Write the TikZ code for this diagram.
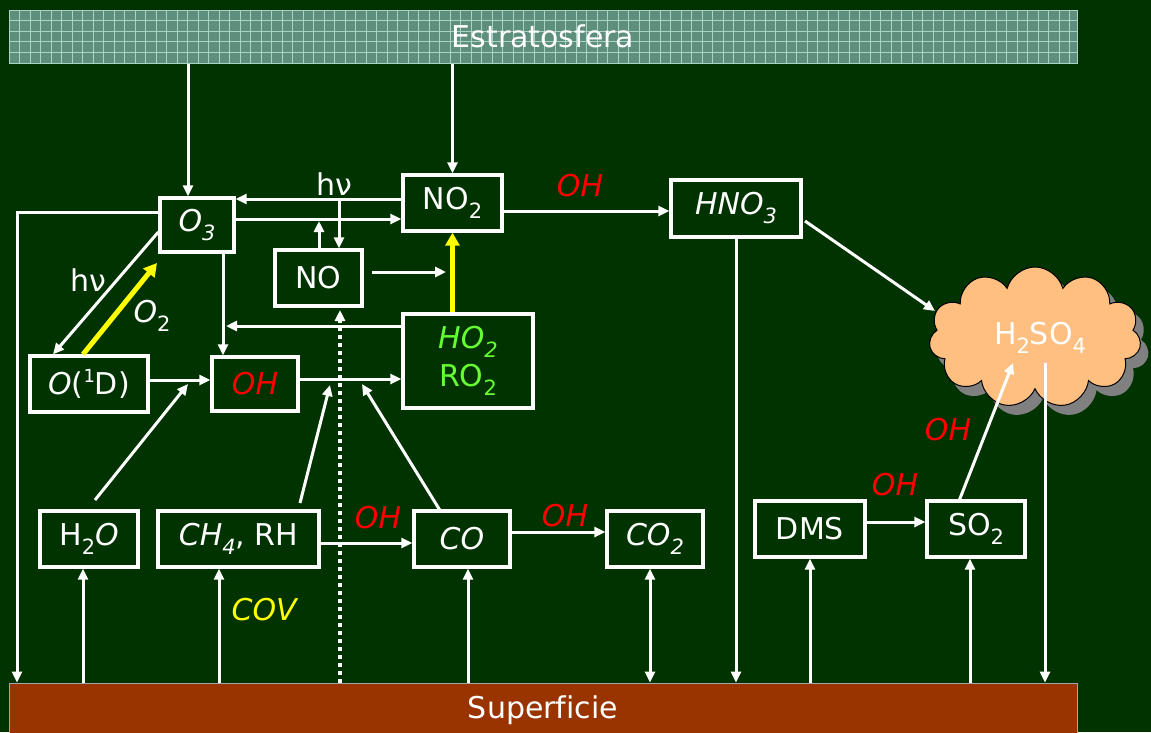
\documentclass[tikz,border=0pt]{standalone}
\usepackage{fontspec}
\setmainfont{DejaVu Sans}[Ligatures=CommonOff]
\usetikzlibrary{arrows.meta,shapes.symbols}
\definecolor{bg}{HTML}{003300}
\definecolor{stratfill}{HTML}{5E8F7D}
\definecolor{stratgrid}{HTML}{A9D3C3}
\definecolor{surffill}{HTML}{993300}
\definecolor{peach}{HTML}{FFBF80}
\definecolor{lime}{HTML}{66FF33}
\definecolor{ohred}{HTML}{FF0000}
\definecolor{yel}{HTML}{FFFF00}
\definecolor{shadowgray}{HTML}{808080}
\newcommand{\sbs}[1]{\raisebox{-0.3em}{\fontsize{21}{21}\selectfont #1}}
\newcommand{\sps}[1]{\raisebox{0.42em}{\fontsize{18}{18}\selectfont #1}}
\newcommand{\bigsz}{\fontsize{30}{38}\selectfont}
\begin{document}
\begin{tikzpicture}[x=1pt,y=-1pt,
  box/.style={draw=white, line width=3.3pt, inner sep=0pt, text=white, font=\bigsz, align=center},
  arr/.style={draw=white, line width=3pt, -{Triangle[length=11pt,width=10pt]}},
  darr/.style={draw=white, line width=3pt, {Triangle[length=11pt,width=10pt]}-{Triangle[length=11pt,width=10pt]}},
  dotarr/.style={draw=white, line width=3.2pt, dash pattern=on 4pt off 4pt, -{Triangle[length=11pt,width=10pt]}},
  yarr/.style={draw=yel, line width=5pt, -{Triangle[length=13pt,width=14pt]}},
  lbl/.style={font=\bigsz, inner sep=0pt},
  bar/.style={inner sep=0pt, text=white, font=\bigsz},
  puff/.style={cloud, cloud puffs=11, aspect=1.5, minimum width=212pt, minimum height=141pt, inner sep=0pt},
  ]
\useasboundingbox (0,0) rectangle (1151,732);
\fill[bg] (0,0) rectangle (1151,732);

% stratosphere bar
\fill[stratfill] (9,10) rectangle (1077,63);
\foreach \x in {19.5,30,...,1077} {\draw[stratgrid, line width=0.9pt] (\x,10) -- (\x,63);}
\foreach \y in {20.5,31,41.5,52} {\draw[stratgrid, line width=0.9pt] (9,\y) -- (1077,\y);}
\node[bar, draw=stratgrid, line width=1pt, minimum width=1068pt, minimum height=53pt] (strat) at (543,36.5) {Estratosfera};

% surface bar
\node[bar, draw=gray!70, line width=0.8pt, fill=surffill, minimum width=1068pt, minimum height=54pt] (surf) at (543,710) {Superficie};

% cloud
\node[puff, fill=shadowgray] (cls) at (1043,347) {};
\node[puff, draw=black, line width=1pt, fill=peach] (cl) at (1035,337.5) {};
\node[lbl, text=white] (h2so4) at (1040,338) {H\sbs{2}SO\sbs{4}};

% boxes
\node[box, minimum width=74pt, minimum height=54pt] (O3) at (197,225) {\textit{O\sbs{3}}};
\node[box, minimum width=99pt, minimum height=56pt] (NO2) at (452.5,203) {NO\sbs{2}};
\node[box, minimum width=87pt, minimum height=56pt] (NO) at (318.5,278) {NO};
\node[box, minimum width=130pt, minimum height=94pt, text=lime] (HO) at (468,361) {\textit{HO\sbs{2}}\\RO\sbs{2}};
\node[box, minimum width=86pt, minimum height=54pt, text=ohred] (OH) at (255,384) {\textit{OH}};
\node[box, minimum width=118pt, minimum height=56pt] (O1D) at (89,384) {\textit{O}(\sps{1}D)};
\node[box, minimum width=130pt, minimum height=57pt] (HNO3) at (736,208.5) {\textit{HNO\sbs{3}}};
\node[box, minimum width=98pt, minimum height=56pt] (H2O) at (89,539) {H\sbs{2}\textit{O}};
\node[box, minimum width=161pt, minimum height=56pt] (CH4) at (238.5,539) {\textit{CH\sbs{4}}, RH};
\node[box, minimum width=96pt, minimum height=56pt] (CO) at (462,539) {\textit{CO}};
\node[box, minimum width=96pt, minimum height=56pt] (CO2) at (655,539) {\textit{CO\sbs{2}}};
\node[box, minimum width=110pt, minimum height=56pt] (DMS) at (810,529) {DMS};
\node[box, minimum width=98pt, minimum height=56pt] (SO2) at (976,529) {SO\sbs{2}};

% free ends
\coordinate (hvs) at (339,199);
\coordinate (noup) at (319,221);
\coordinate (nos) at (372,272);
\coordinate (noe) at (446,272);
\coordinate (hoe) at (226,326);
\coordinate (o3w) at (158,232);
\coordinate (yt) at (157,263);
\coordinate (lc) at (17,212);
\coordinate (h2os) at (95,500);
\coordinate (h2oe) at (188,384);
\coordinate (ch4s) at (300,503);
\coordinate (ch4e) at (330,385);
\coordinate (cos) at (441,512);
\coordinate (coe) at (362,384);
\coordinate (hnos) at (805,221);
\coordinate (hnoe) at (935,311);
\coordinate (cld) at (1045,363);
\coordinate (so2s) at (959,501);
\coordinate (so2e) at (1013,363);
\coordinate (dots) at (340,310);

% connectors
\draw[arr] (strat.south -| 188,0) -- (O3.north -| 188,0);
\draw[arr] (strat.south -| NO2.north) -- (NO2.north);
\draw[arr] (NO2.west |- hvs) -- (O3.east |- hvs);
\draw[arr] (O3.east |- 0,219) -- (NO2.west |- 0,219);
\draw[arr] (hvs) -- (NO.north -| hvs);
\draw[arr] (NO.north -| noup) -- (noup);
\draw[arr] (nos) -- (noe);
\draw[yarr] (HO.north -| NO2.south) -- (NO2.south);
\draw[arr] (HO.west |- hoe) -- (hoe);
\draw[arr] (O3.south -| 223,0) -- (OH.north -| 223,0);
\draw[arr] (OH.east |- 0,379) -- (HO.west |- 0,379);
\draw[arr] (O1D.east |- 0,380) -- (OH.west |- 0,380);
\draw[arr] (O3.west |- o3w) -- (O1D.north -| 53,0);
\draw[yarr] (O1D.north -| 83,0) -- (yt);
\draw[arr] (O3.west |- lc) -- (lc) -- (surf.north -| lc);
\draw[arr] (h2os) -- (h2oe);
\draw[arr] (ch4s) -- (ch4e);
\draw[arr] (cos) -- (coe);
\draw[dotarr] (surf.north -| dots) -- (dots);
\draw[arr] (CH4.east |- 0,543) -- (CO.west |- 0,543);
\draw[arr] (CO.east |- 0,532) -- (CO2.west |- 0,532);
\draw[arr] (NO2.east |- 0,211) -- (HNO3.west |- 0,211);
\draw[arr] (HNO3.south) -- (surf.north -| HNO3.south);
\draw[arr] (hnos) -- (hnoe);
\draw[arr] (cld) -- (surf.north -| cld);
\draw[arr] (so2s) -- (so2e);
\draw[arr] (DMS.east |- 0,522) -- (SO2.west |- 0,522);
\draw[arr] (surf.north -| 83,0) -- (H2O.south -| 83,0);
\draw[arr] (surf.north -| 219,0) -- (CH4.south -| 219,0);
\draw[arr] (surf.north -| 468,0) -- (CO.south -| 468,0);
\draw[darr] (surf.north -| 650,0) -- (CO2.south -| 650,0);
\draw[arr] (surf.north -| 810,0) -- (DMS.south -| 810,0);
\draw[arr] (surf.north -| 970,0) -- (SO2.south -| 970,0);

% labels
\node[lbl, text=white] (hv1) at (334,184) {hν};
\node[lbl, text=white] (hv2) at (88,280) {hν};
\node[lbl, text=white] (o2l) at (152,316) {\textit{O}\sbs{2}};
\node[lbl, text=ohred] (oh1) at (580,186) {\textit{OH}};
\node[lbl, text=ohred] (oh2) at (378,518) {\textit{OH}};
\node[lbl, text=ohred] (oh3) at (565,516) {\textit{OH}};
\node[lbl, text=ohred] (oh4) at (895,485) {\textit{OH}};
\node[lbl, text=ohred] (oh5) at (948,430) {\textit{OH}};
\node[lbl, text=yel] (cov) at (265,610) {\textit{COV}};
\end{tikzpicture}
\end{document}
